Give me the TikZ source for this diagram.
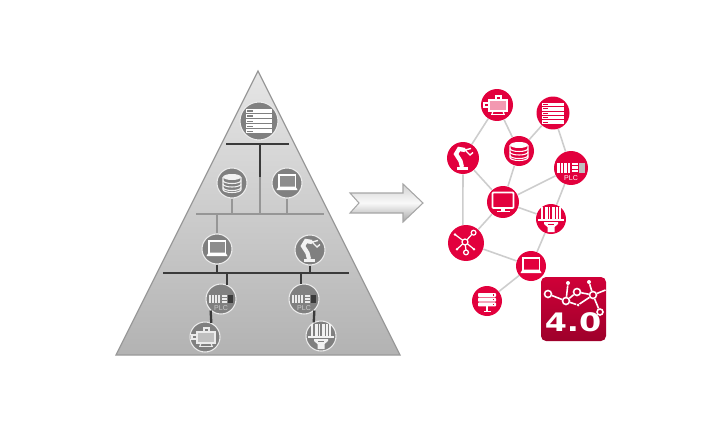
\documentclass[tikz,border=0pt]{standalone}
\usepackage{fontspec}
\setmainfont{Liberation Sans}
\newfontfamily\badgefont{DejaVu Sans}
\usetikzlibrary{calc}

\definecolor{rojo}{RGB}{226, 0, 61}
\definecolor{gris}{RGB}{128, 128, 128}
\definecolor{bus}{RGB}{58, 58, 58}
\definecolor{busclaro}{RGB}{150, 150, 150}
\definecolor{enlace}{RGB}{205, 205, 205}

\tikzset{
    grayball/.style={circle, draw=white!85!gray, line width=0.6pt, fill=gris, inner sep=0pt, minimum size=#1*0.04cm},
    redball/.style={circle, fill=rojo, inner sep=0pt, minimum size=#1*0.04cm},
    darkbus/.style={draw=bus, line width=1.3pt},
    lightbus/.style={draw=busclaro, line width=1.3pt},
    meshlink/.style={draw=enlace, line width=0.9pt},
    netring/.style={circle, draw=white, line width=0.9pt, fill=none, inner sep=0pt, minimum size=#1*0.02cm},
    netdot/.style={circle, fill=white, inner sep=0pt, minimum size=#1*0.02cm},
    pics/servericon/.style={code={
        \foreach \r in {-9,-5.5,-2,1.5,5} {
            \fill (-9,\r) rectangle (9,\r+2.8);
            \fill[#1] (-8,\r+1) rectangle (-4,\r+1.8);
        }
    }},
    pics/rackicon/.style={code={
        \foreach \r in {-8,-3.3,1.4} {
            \fill[rounded corners=0.5pt] (-9,\r) rectangle (9,\r+4);
            \fill[#1] (5.5,\r+1.4) rectangle (7,\r+2.6);
        }
        \fill (-1,5.4) rectangle (1,10);
        \fill (-3.5,10) rectangle (3.5,11);
    }},
    pics/dbicon/.style={code={
        \fill (0,-6) ellipse (9 and 3);
        \draw[line width=0.6pt] (-9,-6) -- (-9,6.5) arc[start angle=180, end angle=0, x radius=9, y radius=3] -- (9,-6);
        \foreach \r in {-2.5,1,4.5}
            \draw[line width=0.6pt] (-9,\r) arc[start angle=180, end angle=0, x radius=9, y radius=3];
    }},
    pics/laptopicon/.style={code={
        \draw[line width=0.8pt] (-8,3.5) -- (-8,-8) -- (8,-8) -- (8,3.5);
        \fill[#1] (-7.5,-7.5) rectangle (7.5,3.5);
        \fill (-8.5,3.5) -- (8.5,3.5) -- (10.5,7) -- (-10.5,7) -- cycle;
    }},
    pics/monitoricon/.style={code={
        \draw[line width=1pt, rounded corners=0.5pt] (-10.5,-9.5) rectangle (10.5,6);
        \fill (-2,6) rectangle (2,9);
        \fill (-6.5,9) rectangle (6.5,10.2);
    }},
    pics/roboticon/.style={code={
        \fill (-6,9) rectangle (5,11.5);
        \draw[line width=2.4pt] (-1,9) -- (-2.5,3) -- (-7,-4) -- (-4,-9) -- (2,-8);
        \draw[line width=0.8pt] (2,-8) -- (8,-9.5) (2,-8) -- (7,-3) -- (10,-5.5);
    }},
    pics/plcicon/.style={code={
        \foreach \c in {-12,-9,-6,-3}
            \fill (\c,-4.5) rectangle (\c+2.2,4);
        \foreach \r in {-4.5,-1.5,1.5}
            \fill (0.5,\r) rectangle (6,\r+2.2);
        \fill[#1] (7,-4.5) rectangle (12,4);
        \node[font=\fontsize{4}{4}\selectfont, inner sep=0pt] (-label) at (0,9) {PLC};
    }},
    pics/motoricon/.style={code={
        \fill[opacity=0.6] (-7,-5) rectangle (11,6);
        \draw[line width=0.7pt] (-7,-5) rectangle (11,6);
        \draw[line width=0.7pt] (-7,-2) -- (-12,-2) -- (-12,2) -- (-7,2);
        \draw[line width=0.7pt] (0,-5) -- (0,-9) -- (5,-9) -- (5,-5);
        \fill (-5,9) rectangle (9,10);
        \draw[line width=0.7pt] (-3,6) -- (-4,9) (7,6) -- (8,9);
    }},
    pics/scannericon/.style={code={
        \foreach \c/\w in {-10/2,-6.5/3,-2.5/1.5,0.5/3,5/1.5,8/2}
            \fill (\c,-12) rectangle (\c+\w,0);
        \draw[line width=0.6pt] (-13,1) -- (13,1);
        \fill (-7,3) -- (7,3) -- (7,5) -- (3.5,8) -- (3.5,13) -- (-3.5,13) -- (-3.5,8) -- (-7,5) -- cycle;
        \fill[#1] (-3,4.5) rectangle (3,6);
    }},
    pics/hubicon/.style={code={
        \draw[line width=0.7pt] (0,0) circle (3);
        \draw[line width=0.7pt] (-2.2,-1.6) -- (-10,-7.5) (2,-2.2) -- (7.2,-8) (2.4,1.8) -- (9,7.2) (0.3,3) -- (1,8) (-2.3,1.9) -- (-8,7.2);
        \fill (-10,-7.5) circle (1.3) (9,7.2) circle (1.3) (-8,7.2) circle (1.3);
        \draw[line width=0.7pt] (8.6,-9.3) circle (2.4) (1,10.4) circle (2.4);
    }},
}

\begin{document}
\begin{tikzpicture}[x=0.02cm, y=-0.02cm]
    \useasboundingbox (0,0) rectangle (720,420);

    % Pyramid
    \draw[draw=gray!80, line width=0.7pt, top color=gray!20, bottom color=gray!60] (258,71) -- (400,355) -- (116,355) -- cycle;

    % Pyramid levels
    \node[grayball=19] (erp) at (259,121) {};
    \node[grayball=15] (database) at (232,183) {};
    \node[grayball=15] (notebook) at (287,183) {};
    \node[grayball=15] (hmi) at (217,249) {};
    \node[grayball=15] (arm) at (310,250) {};
    \node[grayball=15] (plcleft) at (221,299) {};
    \node[grayball=15] (plcright) at (304,299) {};
    \node[grayball=15] (motor) at (205,337) {};
    \node[grayball=15] (reader) at (321,336) {};

    \pic[white, scale=1.45] (erpicon) at (259,122) {servericon=gray};
    \pic[white!90!gray] (databaseicon) at (232,183) {dbicon};
    \pic[white] (notebookicon) at (287,183) {laptopicon=gris!90};
    \pic[white] (hmiicon) at (217,249) {laptopicon=gris!90};
    \pic[white!90!gray] (armicon) at (310,250) {roboticon};
    \pic[white!85!gray, every node/.style={text=gray!40}] (plclefticon) at (221,299) {plcicon=bus};
    \pic[white!85!gray, every node/.style={text=gray!40}] (plcrighticon) at (304,299) {plcicon=bus};
    \pic[white!85!gray] (motoricon) at (204,337) {motoricon};
    \pic[white!90!gray] (readericon) at (321,336) {scannericon=gris};

    % Buses
    \coordinate (busupleft) at (226,144);
    \coordinate (busupright) at (289,144);
    \coordinate (busmidleft) at (196,214);
    \coordinate (busmidright) at (324,214);
    \coordinate (buslowleft) at (163,273);
    \coordinate (buslowright) at (349,273);
    \coordinate (trunktop) at (260,144);
    \coordinate (trunkmid) at (260,177);

    \draw[lightbus] (busmidleft) -- (busmidright);
    \draw[lightbus] (trunkmid) -- (trunkmid |- busmidleft);
    \draw[lightbus] (database) -- (database |- busmidleft);
    \draw[lightbus] (notebook) -- (notebook |- busmidleft);
    \draw[lightbus] (hmi) -- (hmi |- busmidleft);
    \draw[darkbus] (busupleft) -- (busupright);
    \draw[darkbus] (trunktop) -- (trunkmid);
    \draw[darkbus] (buslowleft) -- (buslowright);
    \draw[darkbus] (hmi) -- (hmi |- buslowleft);
    \draw[darkbus] (arm) -- (arm |- buslowleft);
    \draw[darkbus] (plcleft.66) -- (plcleft.66 |- buslowleft);
    \draw[darkbus] (plcright.102) -- (plcright.102 |- buslowleft);
    \draw[darkbus] (plcleft.228) -- (motor.66);
    \draw[darkbus] (plcright.312) -- (reader.118);

    % Arrow between the two sides
    \draw[draw=gray!70, line width=0.6pt, top color=gray!35, bottom color=gray!70, middle color=gray!5]
        (350,193) -- (403,193) -- (403,184) -- (423,203) -- (403,222) -- (403,213) -- (350,213) -- (359,203) -- cycle;

    % Mesh
    \node[redball=16] (meshmotor) at (497,105) {};
    \node[redball=16.5] (meshserver) at (553,113) {};
    \node[redball=16] (meshrobot) at (463,158) {};
    \node[redball=15] (meshdb) at (519,151) {};
    \node[redball=17] (meshplc) at (571,168) {};
    \node[redball=16] (meshscreen) at (503,202) {};
    \node[redball=15] (meshreader) at (551,219) {};
    \node[redball=18] (meshhub) at (466,243) {};
    \node[redball=15] (meshlaptop) at (531,266) {};
    \node[redball=15] (meshrack) at (487,301) {};

    \foreach \a/\b in {meshmotor/meshrobot, meshmotor/meshdb, meshserver/meshdb, meshserver/meshplc,
                       meshrobot/meshscreen, meshrobot.south/meshhub.100, meshdb/meshscreen, meshscreen/meshplc,
                       meshplc/meshreader, meshscreen/meshreader, meshscreen/meshhub, meshreader/meshlaptop,
                       meshhub/meshlaptop, meshlaptop/meshrack}
        \draw[meshlink] (\a) -- (\b);

    \pic[white] (meshmotoricon) at (496,105) {motoricon};
    \pic[white, scale=1.25] (meshservericon) at (553,114) {servericon=rojo};
    \pic[white] (meshroboticon) at (463,158) {roboticon};
    \pic[white] (meshdbicon) at (519,151) {dbicon};
    \pic[white, scale=1.15] (meshplcicon) at (571,168) {plcicon=gray!50};
    \pic[white] (meshscreenicon) at (503,202) {monitoricon};
    \pic[white] (meshreadericon) at (551,219) {scannericon=rojo};
    \pic[white] (meshhubicon) at (465,242) {hubicon};
    \pic[white] (meshlaptopicon) at (531,266) {laptopicon=rojo};
    \pic[white] (meshrackicon) at (487,301) {rackicon=rojo};

    % Badge
    \node[rounded corners=0.1cm, minimum width=1.3cm, minimum height=1.28cm, inner sep=0pt,
          top color=rojo!92!black, bottom color=rojo!70!black] (badge) at (573.5,309) {};

    \node[netring=7] (ringa) at (548,294) {};
    \node[netring=7] (ringb) at (577,292) {};
    \node[netring=6] (ringc) at (600,312) {};
    \node[netring=7] (hubleft) at (566,301) {};
    \node[netring=7] (hubright) at (593,295) {};
    \node[netdot=4] (dota) at (568,283) {};
    \node[netdot=4] (dotb) at (589,282) {};
    \node[netdot=3] (dotc) at (578,305) {};
    \coordinate (netend) at (605.5,290);

    \foreach \a/\b in {ringa/hubleft, hubleft/dota, hubleft/ringb, hubleft/dotc, dotc/hubright,
                       ringb/hubright, hubright/dotb, hubright/netend, hubright/ringc}
        \draw[white, line width=0.9pt] (\a) -- (\b);

    \node[text=white, inner sep=0pt, xscale=1.25, font=\badgefont\bfseries\fontsize{14.5}{14.5}\selectfont] (version) at (573,322) {4.0};
\end{tikzpicture}
\end{document}
